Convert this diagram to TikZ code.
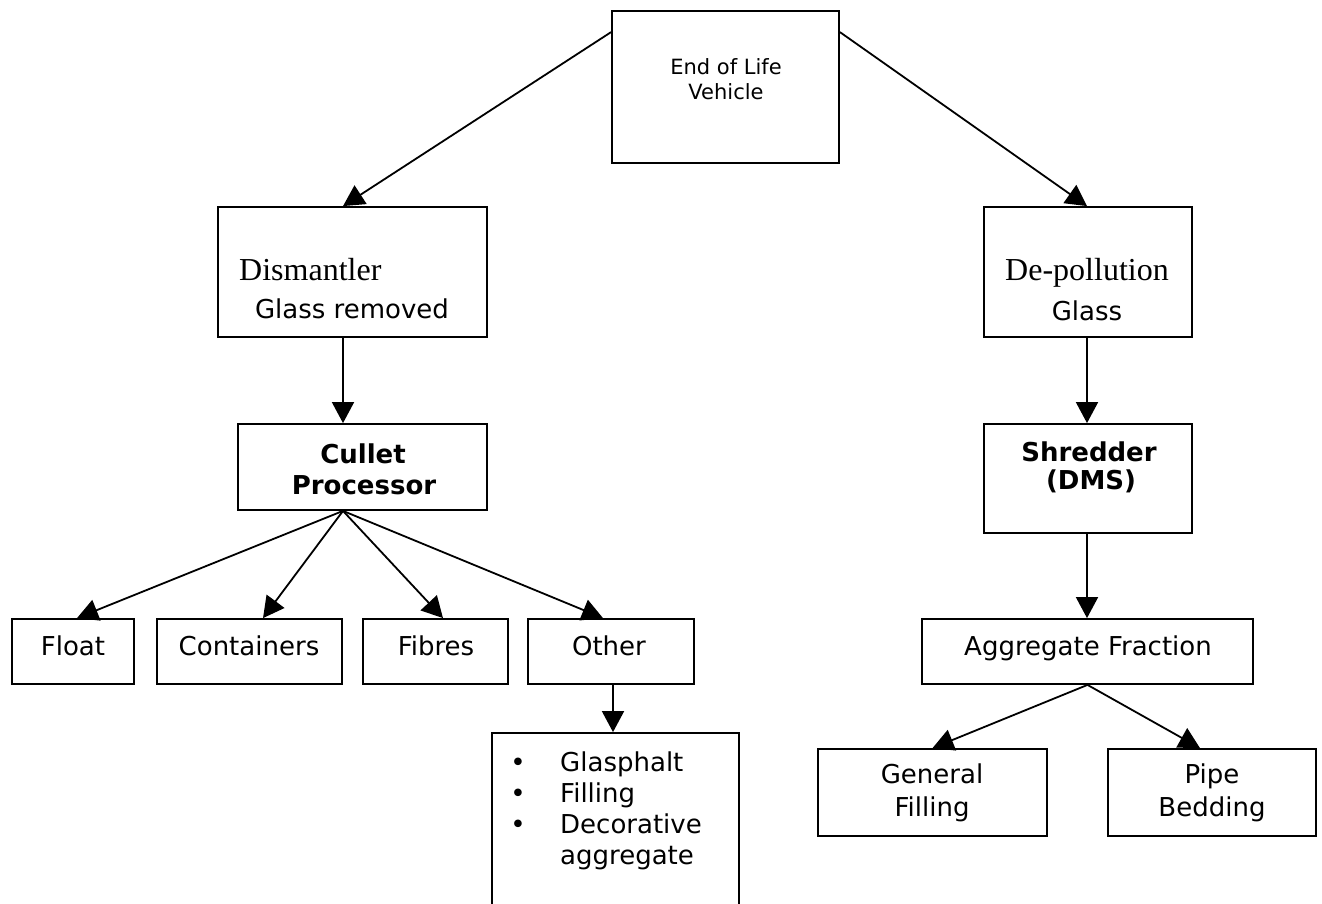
\documentclass[tikz,border=0pt]{standalone}
\usepackage{fontspec}
\setmainfont{DejaVu Sans}
\newfontfamily\seriffam{Liberation Serif}
\usetikzlibrary{arrows.meta,calc}
\begin{document}
\begin{tikzpicture}[x=1pt,y=-1pt,
  box/.style={draw, line width=1.8pt, rectangle, inner sep=0pt},
  conn/.style={line width=1.8pt, -{Triangle[length=21pt,width=22pt]}},
  lbl/.style={anchor=base, inner sep=0pt, font=\fontsize{26}{30}\selectfont},
  blbl/.style={anchor=base, inner sep=0pt, font=\fontsize{26}{30}\selectfont\bfseries},
  slbl/.style={anchor=base, inner sep=0pt, font=\fontsize{21}{25}\selectfont},
  serlbl/.style={anchor=base, inner sep=0pt, font=\fontsize{32}{36}\selectfont\seriffam},
  listlbl/.style={anchor=base west, inner sep=0pt, font=\fontsize{26}{30}\selectfont},
  bul/.style={anchor=base, inner sep=0pt, font=\fontsize{26}{30}\selectfont}]
\useasboundingbox (0,0) rectangle (1322,904);
\clip (0,0) rectangle (1322,904);
\fill[white] (0,0) rectangle (1322,904);

% boxes
\node[box, minimum width=227pt, minimum height=152pt] (eol) at (725.5,87) {};
\node[box, minimum width=269pt, minimum height=130pt] (dis) at (352.5,272) {};
\node[box, minimum width=208pt, minimum height=130pt] (dep) at (1088,272) {};
\node[box, minimum width=249pt, minimum height=86pt] (cul) at (362.5,467) {};
\node[box, minimum width=208pt, minimum height=109pt] (shr) at (1088,478.5) {};
\node[box, minimum width=122pt, minimum height=65pt] (flo) at (73,651.5) {};
\node[box, minimum width=185pt, minimum height=65pt] (con) at (249.5,651.5) {};
\node[box, minimum width=145pt, minimum height=65pt] (fib) at (435.5,651.5) {};
\node[box, minimum width=166pt, minimum height=65pt] (oth) at (611,651.5) {};
\node[box, minimum width=247pt, minimum height=187pt] (lst) at (615.5,826.5) {};
\node[box, minimum width=331pt, minimum height=65pt] (agg) at (1087.5,651.5) {};
\node[box, minimum width=229pt, minimum height=87pt] (gen) at (932.5,792.5) {};
\node[box, minimum width=208pt, minimum height=87pt] (pip) at (1212,792.5) {};

% texts
\node[slbl] (t-eol1) at (726,75) {End of Life};
\node[slbl] (t-eol2) at (726,100) {Vehicle};
\node[serlbl, anchor=base west] (t-dis1) at (239,280) {Dismantler};
\node[lbl] (t-dis2) at (352,318) {Glass removed};
\node[serlbl] (t-dep1) at (1087,280) {De-pollution};
\node[lbl] (t-dep2) at (1087,320) {Glass};
\node[blbl] (t-cul1) at (363,463) {Cullet};
\node[blbl] (t-cul2) at (364,494) {Processor};
\node[blbl] (t-shr1) at (1089,461) {Shredder};
\node[blbl] (t-shr2) at (1091,489) {(DMS)};
\node[lbl] (t-flo) at (73,655) {Float};
\node[lbl] (t-con) at (249,655) {Containers};
\node[lbl] (t-fib) at (436,655) {Fibres};
\node[lbl] (t-oth) at (609,655) {Other};
\node[lbl] (t-agg) at (1088,655) {Aggregate Fraction};
\node[lbl] (t-gen1) at (932,783) {General};
\node[lbl] (t-gen2) at (932,816) {Filling};
\node[lbl] (t-pip1) at (1212,783) {Pipe};
\node[lbl] (t-pip2) at (1212,816) {Bedding};
\node[bul] (b1) at (518,771) {•};
\node[bul] (b2) at (518,802) {•};
\node[bul] (b3) at (518,833) {•};
\node[listlbl] (l1) at (560,771) {Glasphalt};
\node[listlbl] (l2) at (560,802) {Filling};
\node[listlbl] (l3) at (560,833) {Decorative};
\node[listlbl] (l4) at (560,864) {aggregate};

% connectors
\draw[conn] ($(eol.north west)+(0,22)$) -- ($(dis.north)+(-9.5,0)$);
\draw[conn] ($(eol.north east)+(0,22)$) -- ($(dep.north)+(-1,0)$);
\draw[conn] ($(dis.south)+(-9.5,0)$) -- ($(cul.north)+(-19.5,0)$);
\draw[conn] ($(dep.south)+(-1,0)$) -- ($(shr.north)+(-1,0)$);
\draw[conn] ($(shr.south)+(-1,0)$) -- ($(agg.north)+(-0.5,0)$);
\coordinate (culsrc) at ($(cul.south)+(-19.5,0)$);
\draw[conn] (culsrc) -- ($(flo.north)+(4,0)$);
\draw[conn] (culsrc) -- ($(con.north)+(13.5,0)$);
\draw[conn] (culsrc) -- ($(fib.north)+(7.5,0)$);
\draw[conn] (culsrc) -- ($(oth.north)+(-8,0)$);
\draw[conn] ($(oth.south)+(2,0)$) -- ($(lst.north)+(-2.5,0)$);
\draw[conn] (agg.south) -- (gen.north);
\draw[conn] (agg.south) -- ($(pip.north)+(-12,0)$);
\end{tikzpicture}
\end{document}
